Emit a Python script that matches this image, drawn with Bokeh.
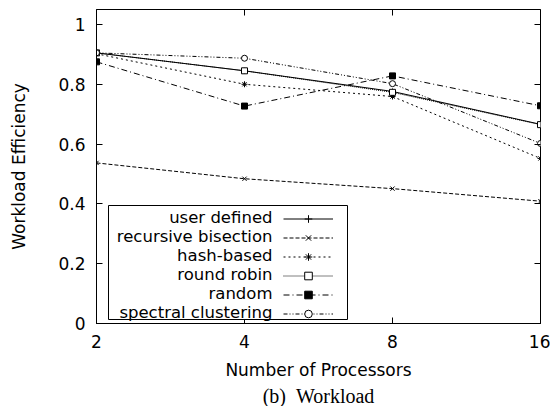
from bokeh.plotting import figure
from bokeh.models import (Range1d, FixedTicker, LogAxis, LinearAxis, Legend, LegendItem,
                          CustomJSTickFormatter, Title, BoxAnnotation, Label)
from bokeh.embed import file_html
from bokeh.resources import INLINE

processors = [2, 4, 8, 16]
user_defined = [0.905, 0.845, 0.776, 0.666]
recursive_bisection = [0.537, 0.484, 0.451, 0.409]
hash_based = [0.902, 0.800, 0.759, 0.552]
round_robin = [0.905, 0.845, 0.773, 0.665]
random_ = [0.875, 0.727, 0.828, 0.728]
spectral_clustering = [0.905, 0.887, 0.802, 0.602]
y_ticks = [0, 0.2, 0.4, 0.6, 0.8, 1]

series = [
    ("user defined", user_defined, "solid", "cross", "black"),
    ("recursive bisection", recursive_bisection, "4 2", "x", "black"),
    ("hash-based", hash_based, "2 3", "asterisk", "black"),
    ("round robin", round_robin, "1 1", "square", "white"),
    ("random", random_, "6 3 1 3", "square", "black"),
    ("spectral clustering", spectral_clustering, "4 2 1 2 1 2", "circle", "white"),
]

FONT = "DejaVu Sans"

p = figure(width=550, height=406, output_backend="svg", toolbar_location=None,
           x_axis_type="log", x_range=Range1d(2, 16), y_range=Range1d(0, 1.05),
           min_border_left=96, min_border_top=9, min_border_right=10, min_border_bottom=83)
p.grid.visible = False
p.outline_line_color = "black"
p.outline_line_width = 1

items = []
for name, vals, dash, marker, fill in series:
    r1 = p.line(processors, vals, line_color="black", line_width=1, line_dash=dash)
    r2 = p.scatter(processors, vals, marker=marker, size=6, line_color="black",
                   fill_color=fill, line_width=1)
    items.append(LegendItem(label=name, renderers=[r1, r2]))

fmt_x = CustomJSTickFormatter(code="return String(tick)")
fmt_y = CustomJSTickFormatter(code="return String(Math.round(tick*10)/10)")

for ax in p.xaxis:
    ax.ticker = FixedTicker(ticks=processors)
    ax.formatter = fmt_x
    ax.major_label_standoff = 11
for ax in p.yaxis:
    ax.ticker = FixedTicker(ticks=y_ticks)
    ax.formatter = fmt_y
    ax.major_label_standoff = 11

for ax in list(p.xaxis) + list(p.yaxis):
    ax.major_tick_in = 6
    ax.major_tick_out = 0
    ax.minor_tick_line_color = None
    ax.axis_line_color = "black"
    ax.major_label_text_font = FONT
    ax.major_label_text_font_size = "17px"
    ax.major_label_text_color = "black"
    ax.axis_label_text_font = FONT
    ax.axis_label_text_font_size = "17px"
    ax.axis_label_text_font_style = "normal"
    ax.axis_label_text_color = "black"

p.xaxis.axis_label = "Number of Processors"
p.xaxis.axis_label_standoff = 9
p.yaxis.axis_label = "Workload Efficiency"
p.yaxis.axis_label_standoff = 26

# mirrored ticks on top and right (no labels)
top = LogAxis(ticker=FixedTicker(ticks=processors), major_tick_in=6, major_tick_out=0,
              minor_tick_line_color=None, major_label_text_font_size="1px",
              major_label_text_color=None, major_label_standoff=0, axis_line_color=None)
right = LinearAxis(ticker=FixedTicker(ticks=y_ticks), major_tick_in=6, major_tick_out=0,
                   minor_tick_line_color=None, major_label_text_font_size="1px",
                   major_label_text_color=None, major_label_standoff=0, axis_line_color=None)
p.add_layout(top, "above")
p.add_layout(right, "right")

# legend frame (gnuplot style: text right-aligned, sample on the right)
frame_box = BoxAnnotation(left=12, right=251, bottom=4, top=118,
                          left_units="screen", right_units="screen",
                          bottom_units="screen", top_units="screen",
                          fill_color="white", fill_alpha=1,
                          line_color="black", line_alpha=1, line_width=1,
                          level="annotation")
p.add_layout(frame_box)

ROW = 19
legend = Legend(items=items, location=(187, 0), border_line_color=None,
                background_fill_alpha=0, margin=0, padding=2,
                spacing=0, label_height=ROW, glyph_height=ROW, glyph_width=50,
                label_standoff=0, label_width=0,
                label_text_font=FONT, label_text_font_size="10px",
                label_text_color=None)
p.add_layout(legend, "center")

for i, (name, *_rest) in enumerate(series):
    p.add_layout(Label(x=176, y=106.5 - ROW * i, x_units="screen", y_units="screen",
                       text=name, text_align="right", text_baseline="middle",
                       text_font=FONT, text_font_size="16.5px", text_color="black"))

cap = Title(text="(b)\u00a0\u00a0Workload", align="center", text_font="Liberation Serif",
            text_font_size="20px", text_font_style="normal", text_color="black",
            standoff=0)
p.add_layout(cap, "below")

open("out.html", "w").write(file_html(p, INLINE))
